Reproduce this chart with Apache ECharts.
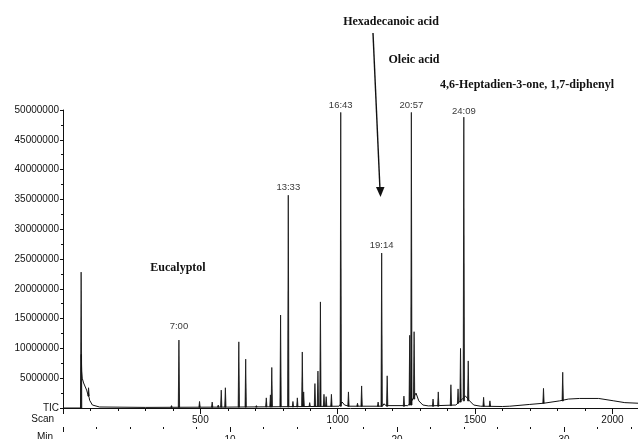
<!DOCTYPE html>
<html>
<head>
<meta charset="utf-8">
<script src="https://cdn.jsdelivr.net/npm/echarts@6/dist/echarts.min.js"></script>
<style>
html,body{margin:0;padding:0;background:#fff;}
#chart{width:638px;height:439px;}
</style>
</head>
<body>
<div id="chart"></div>
<script>
// ---- data ----
// axis extents
const scanMax = 2093;
const scansPerMin = 60.8;
const yMax = 50000000;

// slowly varying trace between the sharp peaks: [scan, intensity]
const baseline = [
  [0, 0], [65, 0], [66.5, 9000000], [68, 6200000], [70, 5000000], [75, 4200000],
  [86, 3000000], [91, 2200000], [95, 1800000], [97, 1300000], [107, 500000],
  [133, 170000], [300, 100000], [400, 120000], [600, 150000], [900, 250000],
  [1005, 300000], [1016, 1000000], [1025, 500000], [1040, 300000],
  [1163, 300000], [1168, 700000], [1176, 400000],
  [1255, 400000], [1266, 900000], [1285, 2500000], [1295, 1200000], [1310, 500000], [1330, 350000],
  [1430, 500000], [1442, 1000000], [1465, 2000000], [1480, 1200000], [1495, 500000],
  [1520, 300000], [1600, 250000], [1626, 300000], [1699, 600000], [1750, 800000],
  [1808, 1200000], [1840, 1500000], [1880, 1600000], [1950, 1600000], [2005, 1200000],
  [2045, 900000], [2093, 800000]
];

// sharp peaks: [scan, top intensity, foot intensity]
const peaks = [
  [66, 22800000, 0], [93, 3400000, 2000000], [395, 400000, 120000],
  [422, 11400000, 120000], [497, 1100000, 130000], [543, 1000000, 140000],
  [565, 500000, 150000], [576, 3000000, 150000], [591, 3400000, 150000],
  [640, 11100000, 150000], [665, 8200000, 150000], [704, 400000, 150000],
  [740, 1700000, 200000], [755, 2200000, 200000], [760, 6800000, 200000],
  [792, 15600000, 200000], [820, 35700000, 200000], [837, 1100000, 200000],
  [853, 1700000, 200000], [871, 9400000, 250000], [876, 2700000, 250000],
  [898, 900000, 250000], [917, 4100000, 300000], [928, 6200000, 300000],
  [937, 17800000, 300000], [950, 2300000, 300000], [958, 1900000, 300000],
  [977, 2300000, 300000], [1011, 49600000, 300000], [1039, 2700000, 300000],
  [1072, 800000, 300000], [1087, 3700000, 300000], [1147, 1000000, 300000],
  [1160, 26000000, 300000], [1180, 5400000, 300000], [1241, 2000000, 300000],
  [1262, 12200000, 500000], [1268, 49600000, 500000], [1278, 12800000, 1500000],
  [1347, 1500000, 300000], [1366, 2700000, 300000], [1412, 3900000, 400000],
  [1438, 3200000, 800000], [1447, 10000000, 1000000], [1459, 48800000, 1200000],
  [1475, 7900000, 1200000], [1531, 1800000, 300000], [1554, 1200000, 300000],
  [1749, 3300000, 800000], [1819, 6000000, 1200000]
];

// retention-time labels and the peak (scan) they belong to
const rtLabels = ["7:00", "13:33", "16:43", "19:14", "20:57", "24:09"];
const rtScans = [422, 820, 1011, 1160, 1268, 1459];

// compound names
const compounds = ["Eucalyptol", "Hexadecanoic acid", "Oleic acid", "4,6-Heptadien-3-one, 1,7-diphenyl"];

// ---- chart ----
const labelGap = [8, 2, 2, 2, 2, 0.5];
const rtData = rtLabels.map((t, i) => {
  const p = peaks.find(q => q[0] === rtScans[i]);
  return {
    value: [p[0], p[1]],
    label: { show: true, formatter: t, distance: labelGap[i] }
  };
});

const axisFont = { fontFamily: 'Liberation Sans, Arial, sans-serif', fontSize: 10, color: '#111' };
const serifFont = 'bold 12px "Liberation Serif", "Times New Roman", serif';

const chart = echarts.init(document.getElementById('chart'), null, { renderer: 'canvas' });
chart.setOption({
  animation: false,
  backgroundColor: '#fff',
  grid: { left: 63, right: 0, top: 110, bottom: 31, containLabel: false, outerBoundsMode: 'none' },
  xAxis: [
    {
      type: 'value', min: 0, max: scanMax, interval: 500, position: 'bottom',
      axisLine: { show: true, lineStyle: { color: '#111', width: 1 } },
      axisTick: { show: true, length: 6, lineStyle: { color: '#111' } },
      minorTick: { show: true, splitNumber: 5, length: 3, lineStyle: { color: '#111' } },
      splitLine: { show: false },
      axisLabel: Object.assign({}, axisFont, {
        margin: 7, showMinLabel: false, showMaxLabel: false,
        formatter: v => (v > 0 && v % 500 === 0) ? String(v) : ''
      })
    },
    {
      type: 'value', min: 0, max: scanMax / scansPerMin, interval: 10, position: 'bottom', offset: 19,
      axisLine: { show: false },
      axisTick: { show: true, length: 5, lineStyle: { color: '#111' } },
      minorTick: { show: true, splitNumber: 5, length: 2, lineStyle: { color: '#111' } },
      splitLine: { show: false },
      axisLabel: Object.assign({}, axisFont, {
        margin: 8, showMinLabel: false, showMaxLabel: false,
        formatter: v => (v > 0 && v % 10 === 0) ? String(v) : ''
      })
    }
  ],
  yAxis: {
    type: 'value', min: 0, max: yMax, interval: 5000000,
    axisLine: { show: true, lineStyle: { color: '#111', width: 1 } },
    axisTick: { show: true, length: 3, lineStyle: { color: '#111' } },
    minorTick: { show: true, splitNumber: 2, length: 2, lineStyle: { color: '#111' } },
    splitLine: { show: false },
    axisLabel: Object.assign({}, axisFont, {
      margin: 4,
      formatter: v => v === 0 ? 'TIC' : String(v)
    })
  },
  series: [
    {
      type: 'line', xAxisIndex: 0, data: baseline, showSymbol: false, silent: true,
      lineStyle: { color: '#111', width: 1 }, z: 2
    },
    {
      type: 'custom', xAxisIndex: 0, data: peaks, silent: true, z: 3,
      encode: { x: 0, y: [1, 2] },
      renderItem: function (params, api) {
        const s = api.value(0), top = api.value(1), base = api.value(2);
        const hw = 2.4;
        const a = api.coord([s - hw, base]);
        const b = api.coord([s, top]);
        const c = api.coord([s + hw, base]);
        return {
          type: 'polygon',
          shape: { points: [a, b, c] },
          style: { fill: '#111', stroke: '#111', lineWidth: 0.8 }
        };
      }
    },
    {
      type: 'scatter', xAxisIndex: 0, data: rtData, symbol: 'circle', symbolSize: 1, silent: true, z: 4,
      itemStyle: { color: 'rgba(255,255,255,0)' },
      label: {
        show: true, position: 'top', color: '#000',
        fontFamily: 'Liberation Sans, Arial, sans-serif', fontSize: 9.5, fontWeight: 'normal'
      }
    }
  ],
  graphic: [
    { type: 'text', x: 178, y: 268, style: { text: compounds[0], font: serifFont, fill: '#111', align: 'center', verticalAlign: 'middle' } },
    { type: 'text', x: 391, y: 22, style: { text: compounds[1], font: serifFont, fill: '#111', align: 'center', verticalAlign: 'middle' } },
    { type: 'text', x: 414, y: 60, style: { text: compounds[2], font: serifFont, fill: '#111', align: 'center', verticalAlign: 'middle' } },
    { type: 'text', x: 440, y: 85, style: { text: compounds[3], font: serifFont, fill: '#111', align: 'left', verticalAlign: 'middle' } },
    { type: 'line', shape: { x1: 373, y1: 33, x2: 380, y2: 190 }, style: { stroke: '#111', lineWidth: 1.4 } },
    { type: 'polygon', shape: { points: [[376, 187], [384.5, 187], [380.5, 197]] }, style: { fill: '#111' } },
    { type: 'text', x: 54, y: 419, style: { text: 'Scan', font: '10px "Liberation Sans", Arial, sans-serif', fill: '#111', align: 'right', verticalAlign: 'middle' } },
    { type: 'text', x: 53, y: 437, style: { text: 'Min', font: '10px "Liberation Sans", Arial, sans-serif', fill: '#111', align: 'right', verticalAlign: 'middle' } }
  ]
});
</script>
</body>
</html>
